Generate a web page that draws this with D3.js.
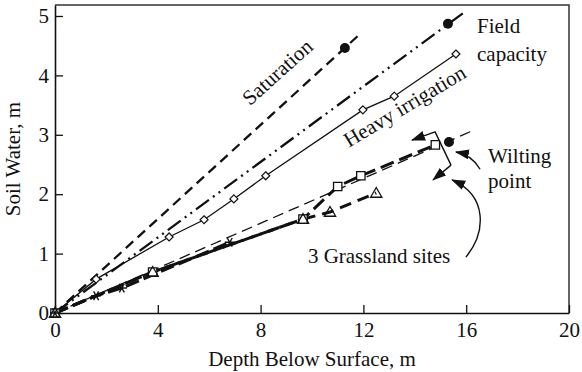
<!DOCTYPE html>
<html>
<head>
<meta charset="utf-8">
<script src="https://cdn.jsdelivr.net/npm/d3@7"></script>
<style>
  body { margin: 0; background: #fff; }
  text { font-family: "Liberation Serif", "Times New Roman", serif; fill: #111; }
</style>
</head>
<body>
<svg id="chart" width="582" height="372"></svg>
<script>
// values (depth m, soil water m)
var xTicks = [0, 4, 8, 12, 16, 20];
var yTicks = [0, 1, 2, 3, 4, 5];

var saturation = [[0, 0], [11.8, 4.67]];
var saturationDot = [[11.28, 4.46]];
var fieldCap = [[0, 0], [15.95, 5.07]];
var fieldCapDot = [[15.29, 4.87]];
var wilting = [[0, 0], [16.2, 3.06]];
var wiltingDot = [[15.33, 2.88]];
var heavy = [[0, 0], [1.6, 0.57], [4.44, 1.28], [5.8, 1.57], [6.96, 1.92], [8.2, 2.31], [11.98, 3.42], [13.2, 3.65], [15.6, 4.36]];
var siteSquares = [[0, 0], [3.8, 0.69], [9.65, 1.58], [11.0, 2.13], [11.9, 2.31], [14.8, 2.83]];
var siteTriangles = [[0, 0], [3.8, 0.69], [9.65, 1.58], [10.7, 1.7], [12.5, 2.02]];
var siteStars = [[0, 0], [1.6, 0.29], [2.6, 0.42], [6.8, 1.19]];

var margin = {top: 5, right: 13, bottom: 59, left: 55};
var width = 582 - margin.left - margin.right;
var height = 372 - margin.top - margin.bottom;

var svg = d3.select("#chart");
var g = svg.append("g").attr("transform", `translate(${margin.left},${margin.top})`);

var x = d3.scaleLinear().domain([0, 20]).range([0, width]);
var y = d3.scaleLinear().domain([0, 5.185]).range([height, 0]);

// frame top / right
g.append("path")
  .attr("d", `M0,0H${width}V${height}`)
  .attr("fill", "none").attr("stroke", "#333").attr("stroke-width", 1.5);

var xAxis = g.append("g")
  .attr("transform", `translate(0,${height})`)
  .call(d3.axisBottom(x).tickValues(xTicks).tickFormat(d3.format("d")).tickSizeInner(-8).tickSizeOuter(0).tickPadding(12));
var yAxis = g.append("g")
  .call(d3.axisLeft(y).tickValues(yTicks).tickFormat(d3.format("d")).tickSizeInner(-8).tickSizeOuter(0).tickPadding(12));
[xAxis, yAxis].forEach(function(a){
  a.select(".domain").attr("stroke", "#111").attr("stroke-width", 1.6);
  a.selectAll(".tick line").attr("stroke", "#111").attr("stroke-width", 1.3);
  a.selectAll(".tick text").style("font-family", '"Liberation Serif", serif').style("font-size", "21px").attr("fill", "#111");
});
xAxis.selectAll(".tick text").attr("dy", "0.55em");
yAxis.selectAll(".tick text").attr("dx", "6px");

var line = d3.line().x(d => x(d[0])).y(d => y(d[1]));

function drawLine(data, w, dash){
  g.append("path").datum(data)
    .attr("d", line)
    .attr("fill", "none")
    .attr("stroke", "#111")
    .attr("stroke-width", w)
    .attr("stroke-dasharray", dash);
}

drawLine(saturation, 2.3, "10,6");
drawLine(fieldCap, 2.3, "16,5,2,5,2,5");
drawLine(wilting, 1.3, "11,6");
drawLine(heavy, 1.3, null);
drawLine(siteStars, 3, "14,5");
drawLine(siteSquares, 3, "14,6");
drawLine(siteTriangles, 3, "12,7");

// filled dots
g.selectAll(".dot")
  .data(saturationDot.concat(fieldCapDot, wiltingDot))
  .join("circle")
  .attr("cx", d => x(d[0])).attr("cy", d => y(d[1]))
  .attr("r", 5).attr("fill", "#111");

// open diamonds
g.selectAll(".diamond")
  .data(heavy)
  .join("path")
  .attr("transform", d => `translate(${x(d[0])},${y(d[1])})`)
  .attr("d", "M0,-4L4,0L0,4L-4,0Z")
  .attr("fill", "#fff").attr("stroke", "#111").attr("stroke-width", 1.2);

g.selectAll(".square")
  .data(siteSquares)
  .join("path")
  .attr("transform", d => `translate(${x(d[0])},${y(d[1])})`)
  .attr("d", d3.symbol(d3.symbolSquare, 70))
  .attr("fill", "#fff").attr("stroke", "#111").attr("stroke-width", 1.3);

g.selectAll(".tri")
  .data(siteTriangles)
  .join("path")
  .attr("transform", d => `translate(${x(d[0])},${y(d[1]) + 1})`)
  .attr("d", d3.symbol(d3.symbolTriangle, 55))
  .attr("fill", "none").attr("stroke", "#111").attr("stroke-width", 1.3);

g.selectAll(".star")
  .data(siteStars)
  .join("path")
  .attr("transform", d => `translate(${x(d[0])},${y(d[1])})`)
  .attr("d", "M-5,0H5M-2.5,-4.3L2.5,4.3M-2.5,4.3L2.5,-4.3")
  .attr("fill", "none").attr("stroke", "#111").attr("stroke-width", 1.4);

// arrowhead marker
svg.append("defs").append("marker")
  .attr("id", "head")
  .attr("markerUnits", "userSpaceOnUse")
  .attr("viewBox", "0 0 14 10")
  .attr("markerWidth", 14).attr("markerHeight", 10)
  .attr("refX", 13).attr("refY", 5)
  .attr("orient", "auto")
  .append("path").attr("d", "M0,0L14,5L0,10Z").attr("fill", "#111");

// wilting point bracket
var bracket = [[15.41, 2.49], [14.79, 3.05], [13.89, 2.91]];
var bracket2 = [[15.41, 2.49], [14.71, 2.24]];
[bracket, bracket2].forEach(function(b){
  g.append("path").datum(b).attr("d", line)
    .attr("fill", "none").attr("stroke", "#111").attr("stroke-width", 1.4)
    .attr("marker-end", "url(#head)");
});

// curved pointers
g.append("path")
  .attr("d", `M${x(16.54)},${y(2.42)}Q${x(16.23)},${y(2.66)} ${x(15.6)},${y(2.71)}`)
  .attr("fill", "none").attr("stroke", "#111").attr("stroke-width", 1.4)
  .attr("marker-end", "url(#head)");
g.append("path")
  .attr("d", `M${x(15.99)},${y(0.94)}C${x(16.77)},${y(1.36)} ${x(16.85)},${y(1.97)} ${x(15.45)},${y(2.24)}`)
  .attr("fill", "none").attr("stroke", "#111").attr("stroke-width", 1.4)
  .attr("marker-end", "url(#head)");

// labels
function label(txt, vx, vy, rot){
  g.append("text")
    .attr("transform", `translate(${x(vx)},${y(vy)}) rotate(${rot || 0})`)
    .style("font-size", "21px")
    .text(txt);
}
label("Saturation", 7.59, 3.48, -42);
label("Heavy irrigation", 11.44, 2.78, -31);
label("Field", 16.42, 4.71);
label("capacity", 16.42, 4.24);
label("Wilting", 16.85, 2.52);
label("point", 16.85, 2.1);
label("3 Grassland sites", 9.84, 0.84);

// axis titles
svg.append("text")
  .attr("x", margin.left + width / 2).attr("y", 366)
  .attr("text-anchor", "middle").style("font-size", "21px")
  .text("Depth Below Surface, m");
svg.append("text")
  .attr("transform", `translate(20,${margin.top + height / 2}) rotate(-90)`)
  .attr("text-anchor", "middle").style("font-size", "21px")
  .text("Soil Water, m");
</script>
</body>
</html>
